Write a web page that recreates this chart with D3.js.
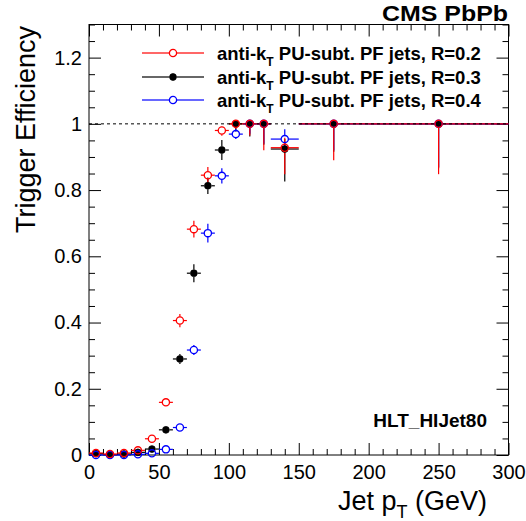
<!DOCTYPE html>
<html>
<head>
<meta charset="utf-8">
<style>
  body { margin: 0; background: #fff; }
  svg { display: block; font-family: "Liberation Sans", Arial, Helvetica, sans-serif; }
  .tick text { font-size: 20px; fill: #000; }
  .tick line { stroke: #000; }
</style>
</head>
<body>
<div class="chart"></div>
<script src="https://cdn.jsdelivr.net/npm/d3@7/dist/d3.min.js"></script>
<script>

// bins in jet pT (GeV): centre and half width
var binCenters = [5, 15, 25, 35, 45, 55, 65, 75, 85, 95, 105, 115, 125, 140, 175, 250];
var binHalfWidths = [5, 5, 5, 5, 5, 5, 5, 5, 5, 5, 5, 5, 5, 10, 25, 50];

// R=0.2
var effR02 = [0.006, 0.003, 0.006, 0.014, 0.049, 0.159, 0.406, 0.682, 0.845, 0.980, 1, 1, 1, 0.928, 1, 1];
var errLoR02 = [0.003, 0.002, 0.003, 0.004, 0.007, 0.012, 0.02, 0.025, 0.025, 0.016, 0.015, 0.035, 0.08, 0.08, 0.11, 0.152];
var errHiR02 = [0.004, 0.003, 0.004, 0.005, 0.008, 0.012, 0.02, 0.025, 0.025, 0.012, 0, 0, 0, 0.03, 0, 0];

// R=0.3
var effR03 = [0.004, 0.001, 0.003, 0.008, 0.018, 0.076, 0.290, 0.549, 0.813, 0.921, 1, 1, 1, 0.924, 1, 1];
var errLoR03 = [0.002, 0.001, 0.002, 0.004, 0.006, 0.01, 0.015, 0.027, 0.025, 0.03, 0.023, 0.038, 0.063, 0.098, 0.084, 0.134];
var errHiR03 = [0.003, 0.002, 0.003, 0.005, 0.007, 0.01, 0.015, 0.027, 0.025, 0.03, 0, 0, 0, 0.03, 0, 0];

// R=0.4
var effR04 = [0.000, 0.000, 0.000, 0.002, 0.005, 0.017, 0.083, 0.317, 0.670, 0.843, 0.969, 1, 1, 0.954, 1, 1];
var errLoR04 = [0, 0, 0, 0.002, 0.003, 0.006, 0.009, 0.015, 0.028, 0.023, 0.015, 0.03, 0.06, 0.027, 0.08, 0.13];
var errHiR04 = [0.002, 0.002, 0.002, 0.003, 0.004, 0.006, 0.009, 0.015, 0.028, 0.023, 0.015, 0, 0, 0.03, 0, 0];

var xMajorTicks = [0, 50, 100, 150, 200, 250, 300];
var yMajorTicks = [0, 0.2, 0.4, 0.6, 0.8, 1, 1.2];

var series = [
    {name: "R=0.3", color: "#000000", filled: true, eff: effR03, lo: errLoR03, hi: errHiR03},
    {name: "R=0.4", color: "#0000ff", filled: false, eff: effR04, lo: errLoR04, hi: errHiR04},
    {name: "R=0.2", color: "#ff0000", filled: false, eff: effR02, lo: errLoR02, hi: errHiR02}
];
var legendOrder = ["R=0.2", "R=0.3", "R=0.4"];

var W = 526, H = 521;
var frameL = 89, frameR = 508.5, frameT = 24.5, frameB = 455;

var x = d3.scaleLinear().domain([0, 300]).range([frameL, frameR]);
var y = d3.scaleLinear().domain([0, 1.3]).range([frameB, frameT]);

var svg = d3.select(".chart").append("svg")
    .attr("width", W)
    .attr("height", H);

// minor ticks
function minor(axis, vals) {
    return axis.tickValues(vals).tickSize(-6).tickFormat("");
}
var xMinor = d3.range(0, 301, 10).filter(function(v) { return v % 50 != 0; });
var yMinor = d3.range(0, 1.3001, 0.05).filter(function(v) { return Math.abs(v / 0.2 - Math.round(v / 0.2)) > 0.01; });

svg.append("g").attr("transform", "translate(0," + frameB + ")")
    .call(minor(d3.axisBottom(x), xMinor));
svg.append("g").attr("transform", "translate(0," + frameT + ")")
    .call(minor(d3.axisTop(x), xMinor));
svg.append("g").attr("transform", "translate(" + frameL + ",0)")
    .call(minor(d3.axisLeft(y), yMinor));
svg.append("g").attr("transform", "translate(" + frameR + ",0)")
    .call(minor(d3.axisRight(y), yMinor));

// major ticks + labels
svg.append("g").attr("transform", "translate(0," + frameB + ")")
    .call(d3.axisBottom(x).tickValues(xMajorTicks).tickSize(-12).tickPadding(10).tickFormat(d3.format("d")));
svg.append("g").attr("transform", "translate(0," + frameT + ")")
    .call(d3.axisTop(x).tickValues(xMajorTicks).tickSize(-12).tickFormat(""));
svg.append("g").attr("transform", "translate(" + frameL + ",0)")
    .call(d3.axisLeft(y).tickValues(yMajorTicks).tickSize(-12).tickPadding(7).tickFormat(function(d) { return String(+d.toFixed(1)); }));
svg.append("g").attr("transform", "translate(" + frameR + ",0)")
    .call(d3.axisRight(y).tickValues(yMajorTicks).tickSize(-12).tickFormat(""));

svg.selectAll(".domain").remove();

// frame
svg.append("rect")
    .attr("x", frameL).attr("y", frameT)
    .attr("width", frameR - frameL).attr("height", frameB - frameT)
    .attr("fill", "none").attr("stroke", "#000").attr("stroke-width", 1);

// error bars, drawn with a gap round the marker like ROOT does
var R = 3.8;
series.forEach(function(s) {
    var g = svg.append("g").attr("stroke", s.color).attr("stroke-width", 1.2);
    binCenters.forEach(function(c, i) {
        var cx = x(c), cy = y(s.eff[i]);
        var x0 = x(c - binHalfWidths[i]), x1 = x(c + binHalfWidths[i]);
        var yLo = y(s.eff[i] - s.lo[i]), yHi = y(s.eff[i] + s.hi[i]);
        if (cx - x0 > R) g.append("line").attr("x1", x0).attr("x2", cx - R).attr("y1", cy).attr("y2", cy);
        if (x1 - cx > R) g.append("line").attr("x1", cx + R).attr("x2", x1).attr("y1", cy).attr("y2", cy);
        if (yLo - cy > R) g.append("line").attr("x1", cx).attr("x2", cx).attr("y1", cy + R).attr("y2", yLo);
        if (cy - yHi > R) g.append("line").attr("x1", cx).attr("x2", cx).attr("y1", cy - R).attr("y2", yHi);
    });
});

// reference line at 1
svg.append("line")
    .attr("x1", x(0)).attr("x2", x(300))
    .attr("y1", y(1)).attr("y2", y(1))
    .attr("stroke", "#000").attr("stroke-width", 1)
    .attr("stroke-dasharray", "3,3");

// markers
series.forEach(function(s) {
    svg.append("g").selectAll("circle")
        .data(binCenters)
        .enter().append("circle")
        .attr("cx", function(d) { return x(d); })
        .attr("cy", function(d, i) { return y(s.eff[i]); })
        .attr("r", s.filled ? 3.4 : 3.6)
        .attr("fill", s.filled ? s.color : "none")
        .attr("stroke", s.color)
        .attr("stroke-width", s.filled ? 0.8 : 1.3);
});

// legend
var legY = [53, 77, 100];
legendOrder.forEach(function(name, i) {
    var s = series.filter(function(d) { return d.name == name; })[0];
    var g = svg.append("g").attr("transform", "translate(0," + legY[i] + ")");
    g.append("line").attr("x1", 142).attr("x2", 169.5).attr("stroke", s.color).attr("stroke-width", 1.2);
    g.append("line").attr("x1", 176.5).attr("x2", 204).attr("stroke", s.color).attr("stroke-width", 1.2);
    g.append("circle").attr("cx", 173).attr("cy", 0)
        .attr("r", s.filled ? 3.4 : 3.6)
        .attr("fill", s.filled ? s.color : "none")
        .attr("stroke", s.color).attr("stroke-width", s.filled ? 0.8 : 1.3);
    var t = g.append("text").attr("x", 217).attr("y", 6.5)
        .attr("font-size", "18.5px").attr("font-weight", "bold");
    t.append("tspan").text("anti-k");
    t.append("tspan").attr("font-size", "12px").attr("dy", 6).text("T");
    t.append("tspan").attr("dy", -6).text(" PU-subt. PF jets, " + name);
});

// labels
svg.append("text")
    .attr("x", 508).attr("y", 21)
    .attr("text-anchor", "end")
    .attr("font-size", "22px").attr("font-weight", "bold")
    .attr("textLength", 126).attr("lengthAdjust", "spacingAndGlyphs")
    .text("CMS PbPb");

svg.append("text")
    .attr("x", 487).attr("y", 427)
    .attr("text-anchor", "end")
    .attr("font-size", "19px").attr("font-weight", "bold")
    .text("HLT_HIJet80");

svg.append("text")
    .attr("transform", "translate(35,26) rotate(-90)")
    .attr("text-anchor", "end")
    .attr("font-size", "27px")
    .text("Trigger Efficiency");

var xt = svg.append("text")
    .attr("x", 487).attr("y", 510)
    .attr("text-anchor", "end")
    .attr("font-size", "27px");
xt.append("tspan").text("Jet p");
xt.append("tspan").attr("font-size", "18px").attr("dy", 8).text("T");
xt.append("tspan").attr("dy", -8).text(" (GeV)");

</script>
</body>
</html>
